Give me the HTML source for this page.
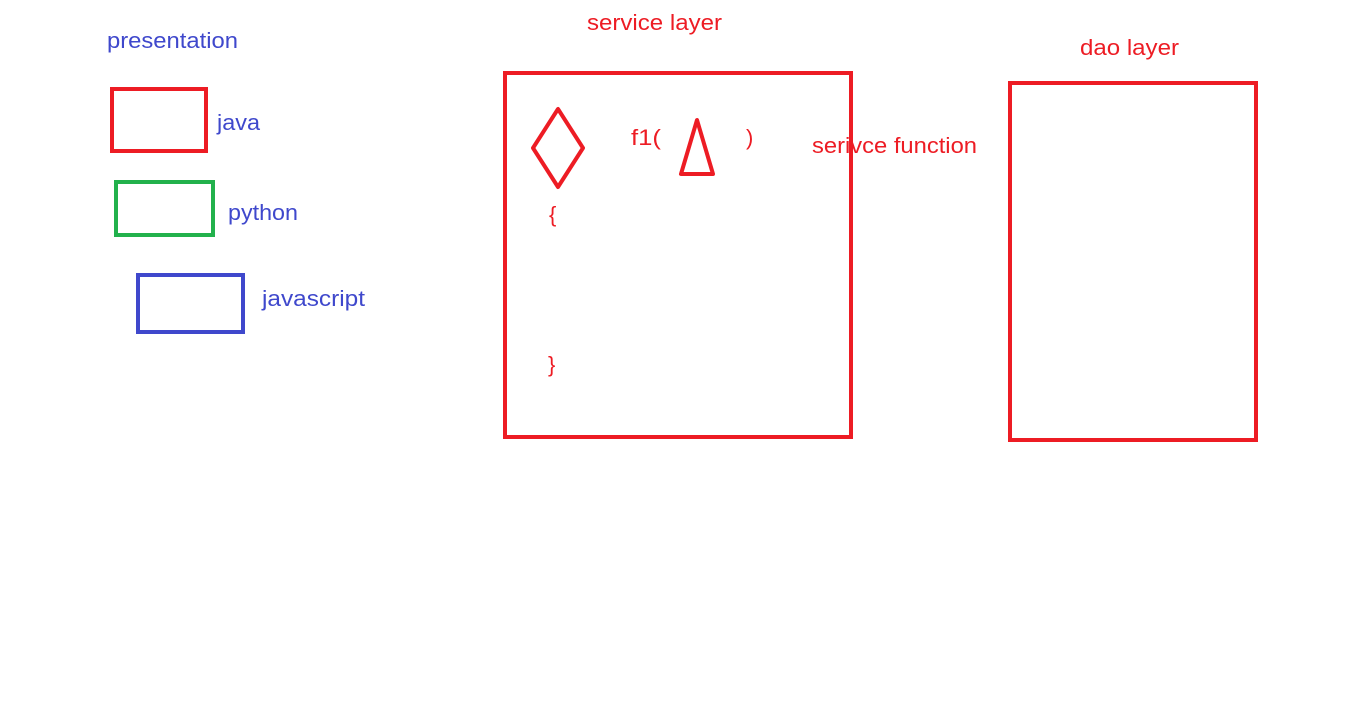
<!DOCTYPE html>
<html><head><meta charset="utf-8"><style>
html,body{margin:0;padding:0;background:#fff;width:1360px;height:715px;overflow:hidden}
svg text{font-family:"Liberation Sans",sans-serif;font-size:22px}
</style></head><body>
<svg width="1360" height="715" viewBox="0 0 1360 715">
<g fill="none" stroke-width="4" stroke-linejoin="miter">
<rect x="112" y="89" width="94" height="62" stroke="#ed1c24"/>
<rect x="116" y="182" width="97" height="53" stroke="#22b14c"/>
<rect x="138" y="275" width="105" height="57" stroke="#3f48cc"/>
<rect x="505" y="73" width="346" height="364" stroke="#ed1c24"/>
<rect x="1010" y="83" width="246" height="357" stroke="#ed1c24"/>
<polygon points="558,109 533,148 558,187 583,148" stroke="#ed1c24" stroke-linejoin="round"/>
<polygon points="697,120 681,174 713,174" stroke="#ed1c24" stroke-linejoin="round"/>
</g>
<g lengthAdjust="spacingAndGlyphs">
<text x="107" y="48" fill="#3f48cc" textLength="131" lengthAdjust="spacingAndGlyphs">presentation</text>
<text x="217" y="130" fill="#3f48cc" textLength="43" lengthAdjust="spacingAndGlyphs">java</text>
<text x="228" y="220" fill="#3f48cc" textLength="70" lengthAdjust="spacingAndGlyphs">python</text>
<text x="262" y="306" fill="#3f48cc" textLength="103" lengthAdjust="spacingAndGlyphs">javascript</text>
<text x="587" y="30" fill="#ed1c24" textLength="135" lengthAdjust="spacingAndGlyphs">service layer</text>
<text x="1080" y="55" fill="#ed1c24" textLength="99" lengthAdjust="spacingAndGlyphs">dao layer</text>
<text x="631" y="145" fill="#ed1c24" textLength="30" lengthAdjust="spacingAndGlyphs">f1(</text>
<text x="746" y="145" fill="#ed1c24">)</text>
<text x="812" y="153" fill="#ed1c24" textLength="165" lengthAdjust="spacingAndGlyphs">serivce function</text>
<text x="549" y="222" fill="#ed1c24">{</text>
<text x="548" y="372" fill="#ed1c24">}</text>
</g>
</svg>
</body></html>
